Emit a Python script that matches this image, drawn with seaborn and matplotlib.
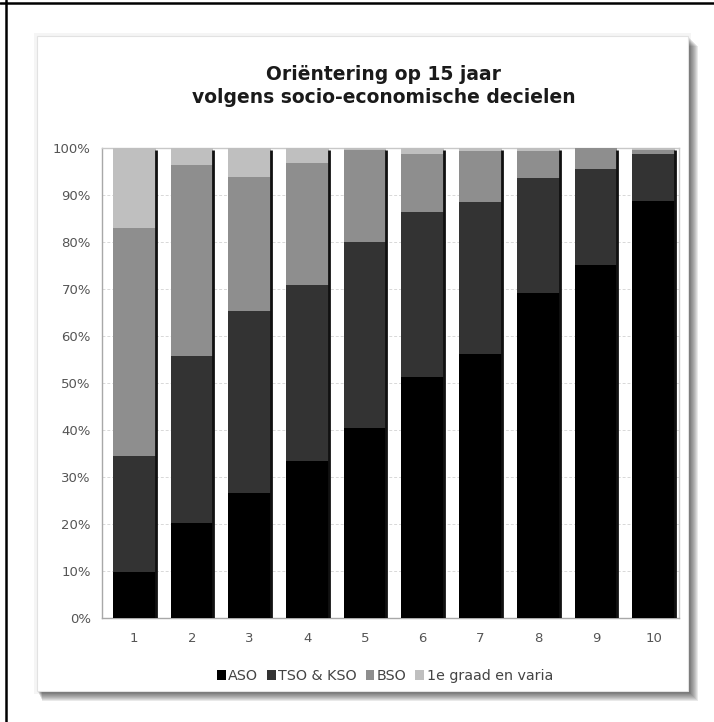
import matplotlib
matplotlib.use("Agg")
import matplotlib.pyplot as plt
from matplotlib.patches import Rectangle, Patch
from matplotlib.lines import Line2D
import numpy as np
import pandas as pd
import seaborn as sns

# ---- data (percent) ----
deciles = ["1", "2", "3", "4", "5", "6", "7", "8", "9", "10"]
aso = [9.8, 20.3, 26.5, 33.4, 40.4, 51.2, 56.2, 69.2, 75.1, 88.8]
tso_kso = [24.6, 35.4, 38.8, 37.4, 39.7, 35.1, 32.4, 24.4, 20.4, 9.9]
bso = [48.5, 40.7, 28.5, 26.0, 19.4, 12.4, 10.7, 5.7, 4.5, 0.9]
eerste_graad = [17.1, 3.6, 6.2, 3.2, 0.5, 1.3, 0.7, 0.7, 0.0, 0.4]
series_names = ["ASO", "TSO & KSO", "BSO", "1e graad en varia"]
colors = ["#000000", "#333333", "#8e8e8e", "#bfbfbf"]
title = "Oriëntering op 15 jaar\nvolgens socio-economische decielen"
ytick_labels = ["0%", "10%", "20%", "30%", "40%", "50%", "60%", "70%", "80%", "90%", "100%"]

sns.set_theme(style="white")
plt.rcParams["font.family"] = ["DejaVu Sans"]

fig = plt.figure(figsize=(7.14, 7.22), dpi=100)
fig.patch.set_facecolor("white")

W, H = 714.0, 722.0
px0, py_top, px1, py_bot = 37, 36, 688, 691
# soft faint halo around panel
fig.patches.append(Rectangle(((px0 - 3) / W, (H - py_bot - 3) / H), (px1 - px0 + 6) / W,
                             (py_bot - py_top + 6) / H, transform=fig.transFigure,
                             facecolor="#000000", alpha=0.04, edgecolor="none", zorder=0))
# drop shadow (right and bottom)
for off in range(10, 0, -1):
    fig.patches.append(Rectangle(((px0 + off * 0.5) / W, (H - py_bot - off) / H),
                                 (px1 - px0 + off - off * 0.5) / W, (py_bot - py_top) / H,
                                 transform=fig.transFigure, facecolor="#303030",
                                 alpha=0.10, edgecolor="none", zorder=0))
fig.patches.append(Rectangle((px0 / W, (H - py_bot) / H), (px1 - px0) / W, (py_bot - py_top) / H,
                             transform=fig.transFigure, facecolor="white",
                             edgecolor="#e2e2e2", linewidth=0.8, zorder=0.5))
# outer frame (top and left)
fig.lines.append(Line2D([0, 1], [1 - 3 / H, 1 - 3 / H], transform=fig.transFigure,
                        color="black", linewidth=1.8))
fig.lines.append(Line2D([5.5 / W, 5.5 / W], [0, 1], transform=fig.transFigure,
                        color="black", linewidth=1.8))

ax = fig.add_axes([102 / W, (H - 618) / H, 577 / W, 470 / H])
ax.set_facecolor("none")
ax.set_zorder(2)

layers = [aso, tso_kso, bso, eerste_graad]
cum = np.cumsum(np.array(layers), axis=0)
df = pd.DataFrame({"deciel": deciles})
for k in range(3, -1, -1):
    df["cum"] = cum[k]
    sns.barplot(data=df, x="deciel", y="cum", color=colors[k], saturation=1,
                width=0.74, ax=ax, linewidth=0, zorder=3)

# dark right-edge line of each bar (from the total bars)
n = len(deciles)
for p in ax.patches[:n]:
    xr = p.get_x() + p.get_width()
    ax.vlines(xr, 0, p.get_height() - 0.4, color="#111111", linewidth=2.0, zorder=4)

ax.set_xlim(-0.56, 9.44)
ax.set_ylim(0, 100)
ax.set_yticks(np.arange(0, 101, 10))
ax.set_yticklabels(ytick_labels)
ax.set_xlabel("")
ax.set_ylabel("")
ax.tick_params(axis="both", colors="#555555", labelsize=9.5, length=0)
ax.tick_params(axis="x", pad=10)
ax.tick_params(axis="y", pad=8)
ax.yaxis.grid(True, color="#d8d8d8", linestyle=(0, (3, 2)), linewidth=0.7)
ax.set_axisbelow(True)
for s in ax.spines.values():
    s.set_color("#c8c8c8")
    s.set_linewidth(1.0)
ax.spines["bottom"].set_color("#a8a8a8")
ax.spines["left"].set_color("#a8a8a8")

fig.text(384 / W, 1 - 86 / H, title, ha="center", va="center",
         fontsize=13.5, fontweight="bold", color="#1a1a1a", linespacing=1.25)

handles = [Patch(facecolor=c, edgecolor="none") for c in colors]
fig.legend(handles, series_names, loc="center", bbox_to_anchor=(385 / W, 1 - 676 / H),
           ncol=4, frameon=False, fontsize=10.3, handlelength=0.6, handleheight=0.7,
           handletextpad=0.2, columnspacing=0.6, labelcolor="#444444")

fig.savefig("out.png", dpi=100, facecolor="white")
